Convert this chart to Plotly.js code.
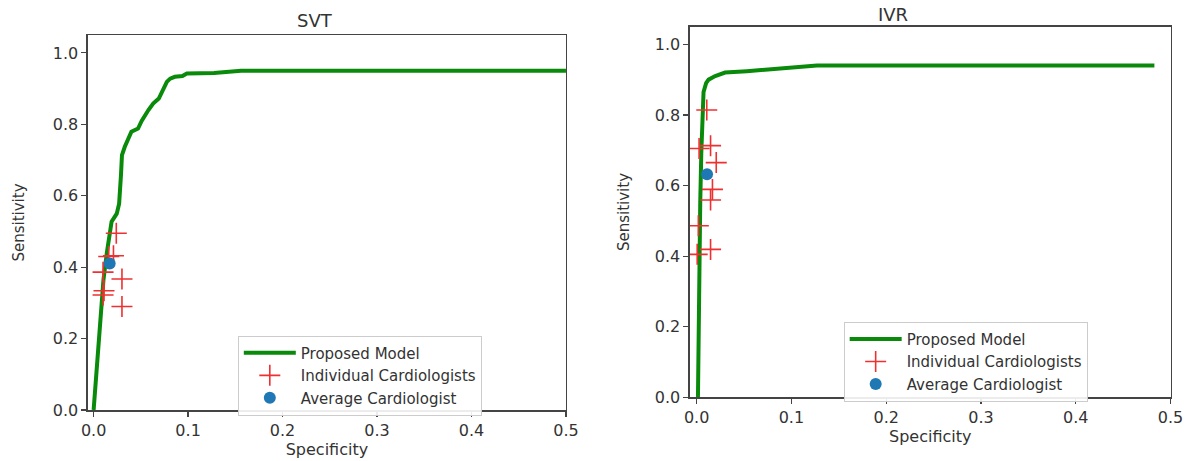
<!DOCTYPE html>
<html>
<head>
<meta charset="utf-8">
<script src="https://cdn.plot.ly/plotly-3.0.1.min.js"></script>
<style>
html,body{margin:0;padding:0;background:#fff;}
#chart{width:1195px;height:461px;}
</style>
</head>
<body>
<div id="chart"></div>
<script>
// ---- SVT panel data ----
const svtModelX = [0, 0.0016, 0.004, 0.006, 0.0087, 0.0104, 0.014, 0.0168, 0.019, 0.0245, 0.027, 0.029, 0.030, 0.033, 0.038, 0.040, 0.047, 0.051, 0.058, 0.063, 0.069, 0.072, 0.0775, 0.081, 0.086, 0.094, 0.0987, 0.1275, 0.156, 0.5];
const svtModelY = [0, 0.056, 0.14, 0.215, 0.29, 0.364, 0.44, 0.495, 0.527, 0.55, 0.578, 0.66, 0.714, 0.737, 0.765, 0.779, 0.788, 0.81, 0.84, 0.858, 0.872, 0.89, 0.919, 0.928, 0.933, 0.935, 0.942, 0.944, 0.95, 0.95];
const svtIndivX = [0.024, 0.016, 0.021, 0.030, 0.010, 0.011, 0.010, 0.030];
const svtIndivY = [0.495, 0.43, 0.432, 0.367, 0.386, 0.334, 0.322, 0.29];
const svtAvgX = [0.017];
const svtAvgY = [0.41];

// ---- IVR panel data ----
const ivrModelX = [0.0014, 0.0028, 0.0038, 0.0049, 0.0059, 0.0063, 0.0073, 0.010, 0.0126, 0.0196, 0.030, 0.053, 0.067, 0.099, 0.123, 0.127, 0.483];
const ivrModelY = [0, 0.40, 0.55, 0.69, 0.79, 0.85, 0.865, 0.89, 0.90, 0.91, 0.92, 0.924, 0.927, 0.932, 0.937, 0.94, 0.94];
const ivrIndivX = [0.0107, 0.0026, 0.0147, 0.0207, 0.0167, 0.0147, 0.0018, 0.0006, 0.0147];
const ivrIndivY = [0.814, 0.705, 0.713, 0.665, 0.589, 0.559, 0.486, 0.405, 0.419];
const ivrAvgX = [0.011];
const ivrAvgY = [0.632];

// ---- labels ----
const panelTitles = ["SVT", "IVR"];
const seriesNames = ["Proposed Model", "Individual Cardiologists", "Average Cardiologist"];
const xAxisLabel = "Specificity";
const yAxisLabel = "Sensitivity";
const xTicks = [0, 0.1, 0.2, 0.3, 0.4, 0.5];
const yTicks = [0, 0.2, 0.4, 0.6, 0.8, 1.0];

const GREEN = "#0a8a0a", RED = "#ee3030", BLUE = "#1f77b4";
const FONT = "DejaVu Sans, sans-serif";
const TXT = "#333333";

function panelTraces(mx, my, ix, iy, ax, ay, xa, ya, leg) {
  return [
    {x: mx, y: my, xaxis: xa, yaxis: ya, legend: leg, type: "scatter", mode: "lines",
     name: seriesNames[0], line: {color: GREEN, width: 4}},
    {x: ix, y: iy, xaxis: xa, yaxis: ya, legend: leg, type: "scatter", mode: "markers",
     name: seriesNames[1], marker: {symbol: "cross-thin", size: 15, color: RED, line: {color: RED, width: 1.6}}},
    {x: ax, y: ay, xaxis: xa, yaxis: ya, legend: leg, type: "scatter", mode: "markers",
     name: seriesNames[2], marker: {symbol: "circle", size: 12, color: BLUE}}
  ];
}

const data = [
  ...panelTraces(svtModelX, svtModelY, svtIndivX, svtIndivY, svtAvgX, svtAvgY, "x", "y", "legend"),
  ...panelTraces(ivrModelX, ivrModelY, ivrIndivX, ivrIndivY, ivrAvgX, ivrAvgY, "x2", "y2", "legend2")
];

function xAxis(domain, range, anchor, standoff) {
  return {domain: domain, range: range, anchor: anchor, tickvals: xTicks, tickformat: ".1f",
    showline: true, mirror: true, linecolor: "#444", linewidth: 1.5,
    ticks: "outside", ticklen: 5, tickcolor: "#444", tickwidth: 1.2,
    showgrid: false, zeroline: false, tickfont: {family: FONT, size: 16, color: TXT},
    title: {text: xAxisLabel, font: {family: FONT, size: 16, color: TXT}, standoff: standoff}};
}
function yAxis(domain, anchor, standoff) {
  return {domain: domain, range: [0, 1.05], anchor: anchor, tickvals: yTicks, tickformat: ".1f",
    showline: true, mirror: true, linecolor: "#444", linewidth: 1.5,
    ticks: "outside", ticklen: 5, tickcolor: "#444", tickwidth: 1.2,
    showgrid: false, zeroline: false, tickfont: {family: FONT, size: 16, color: TXT},
    title: {text: yAxisLabel, font: {family: FONT, size: 15, color: TXT}, standoff: standoff}};
}

const legendBase = {font: {family: FONT, size: 15, color: TXT}, bgcolor: "rgba(255,255,255,0.9)",
  bordercolor: "#cccccc", borderwidth: 1, xanchor: "left", yanchor: "top", itemwidth: 52,
  tracegroupgap: 0};

const layout = {
  width: 1195, height: 461,
  margin: {l: 0, r: 0, t: 0, b: 0},
  paper_bgcolor: "#fff", plot_bgcolor: "#fff",
  showlegend: true,
  xaxis: xAxis([0.0736, 0.4736], [-0.006, 0.5], "y", 4),
  yaxis: yAxis([0.1106, 0.924], "x", 24),
  xaxis2: xAxis([0.5774, 0.9795], [-0.007, 0.5], "y2", 1),
  yaxis2: yAxis([0.1382, 0.9421], "x2", 21),
  legend: Object.assign({}, legendBase, {x: 0.199, y: 0.272}),
  legend2: Object.assign({}, legendBase, {x: 0.706, y: 0.302}),
  annotations: [
    {text: panelTitles[0], xref: "paper", yref: "paper", x: 315/1195, y: (461-21)/461,
     xanchor: "center", yanchor: "middle", showarrow: false, font: {family: FONT, size: 18, color: TXT}},
    {text: panelTitles[1], xref: "paper", yref: "paper", x: 893/1195, y: (461-14)/461,
     xanchor: "center", yanchor: "middle", showarrow: false, font: {family: FONT, size: 18, color: TXT}}
  ]
};

Plotly.newPlot("chart", data, layout, {displayModeBar: false, staticPlot: true});
</script>
</body>
</html>
